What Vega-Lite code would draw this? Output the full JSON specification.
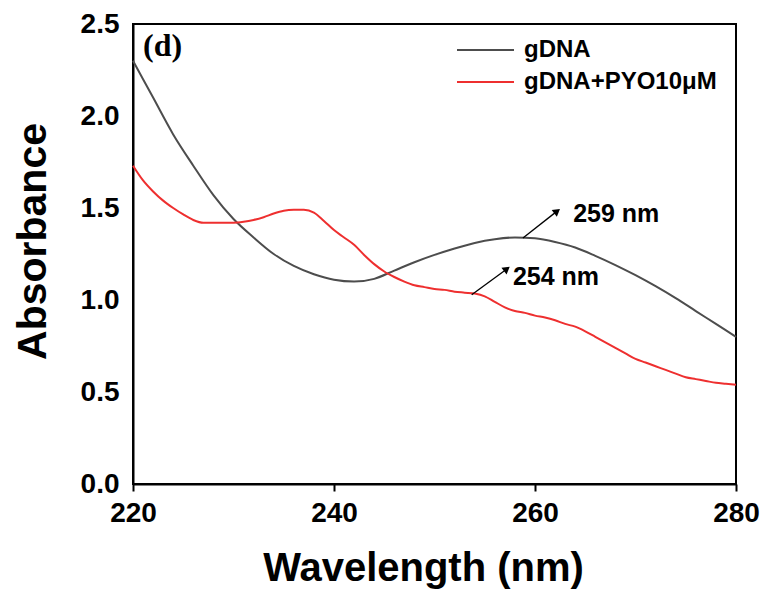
{
  "$schema": "https://vega.github.io/schema/vega-lite/v6.json",
  "width": 603,
  "height": 460,
  "autosize": {"type": "none"},
  "padding": {"left": 133, "top": 24, "right": 30, "bottom": 107},
  "background": "white",
  "config": {
    "view": {"stroke": "black", "strokeWidth": 2},
    "font": "Liberation Sans",
    "axis": {
      "domainColor": "black",
      "domainWidth": 2,
      "tickColor": "black",
      "tickWidth": 2,
      "grid": false,
      "labelFont": "Liberation Sans",
      "labelFontWeight": "bold",
      "labelFontSize": 28,
      "labelColor": "black",
      "labelFlush": false,
      "titleFont": "Liberation Sans",
      "titleFontWeight": "bold",
      "titleFontSize": 40,
      "titleColor": "black"
    }
  },
  "datasets": {
    "spectra": [
      {"series": "gDNA", "wl": 220, "abs": 2.30},
      {"series": "gDNA", "wl": 222, "abs": 2.10},
      {"series": "gDNA", "wl": 224, "abs": 1.90},
      {"series": "gDNA", "wl": 226, "abs": 1.73},
      {"series": "gDNA", "wl": 228, "abs": 1.57},
      {"series": "gDNA", "wl": 230, "abs": 1.44},
      {"series": "gDNA", "wl": 232, "abs": 1.34},
      {"series": "gDNA", "wl": 234, "abs": 1.25},
      {"series": "gDNA", "wl": 236, "abs": 1.185},
      {"series": "gDNA", "wl": 238, "abs": 1.14},
      {"series": "gDNA", "wl": 240, "abs": 1.11},
      {"series": "gDNA", "wl": 242, "abs": 1.10},
      {"series": "gDNA", "wl": 244, "abs": 1.115},
      {"series": "gDNA", "wl": 246, "abs": 1.16},
      {"series": "gDNA", "wl": 248, "abs": 1.205},
      {"series": "gDNA", "wl": 250, "abs": 1.245},
      {"series": "gDNA", "wl": 252, "abs": 1.28},
      {"series": "gDNA", "wl": 254, "abs": 1.31},
      {"series": "gDNA", "wl": 256, "abs": 1.33},
      {"series": "gDNA", "wl": 258, "abs": 1.34},
      {"series": "gDNA", "wl": 260, "abs": 1.335},
      {"series": "gDNA", "wl": 262, "abs": 1.315},
      {"series": "gDNA", "wl": 264, "abs": 1.285},
      {"series": "gDNA", "wl": 266, "abs": 1.24},
      {"series": "gDNA", "wl": 268, "abs": 1.19},
      {"series": "gDNA", "wl": 270, "abs": 1.135},
      {"series": "gDNA", "wl": 272, "abs": 1.075},
      {"series": "gDNA", "wl": 274, "abs": 1.01},
      {"series": "gDNA", "wl": 276, "abs": 0.94},
      {"series": "gDNA", "wl": 278, "abs": 0.87},
      {"series": "gDNA", "wl": 280, "abs": 0.80},
      {"series": "gDNA+PYO10μM", "wl": 220, "abs": 1.73},
      {"series": "gDNA+PYO10μM", "wl": 221, "abs": 1.65},
      {"series": "gDNA+PYO10μM", "wl": 222, "abs": 1.59},
      {"series": "gDNA+PYO10μM", "wl": 223, "abs": 1.54},
      {"series": "gDNA+PYO10μM", "wl": 224, "abs": 1.50},
      {"series": "gDNA+PYO10μM", "wl": 225, "abs": 1.465},
      {"series": "gDNA+PYO10μM", "wl": 226, "abs": 1.435},
      {"series": "gDNA+PYO10μM", "wl": 227, "abs": 1.42},
      {"series": "gDNA+PYO10μM", "wl": 228, "abs": 1.42},
      {"series": "gDNA+PYO10μM", "wl": 229, "abs": 1.42},
      {"series": "gDNA+PYO10μM", "wl": 230, "abs": 1.42},
      {"series": "gDNA+PYO10μM", "wl": 231, "abs": 1.425},
      {"series": "gDNA+PYO10μM", "wl": 232, "abs": 1.435},
      {"series": "gDNA+PYO10μM", "wl": 233, "abs": 1.45},
      {"series": "gDNA+PYO10μM", "wl": 234, "abs": 1.47},
      {"series": "gDNA+PYO10μM", "wl": 235, "abs": 1.485},
      {"series": "gDNA+PYO10μM", "wl": 236, "abs": 1.49},
      {"series": "gDNA+PYO10μM", "wl": 237, "abs": 1.49},
      {"series": "gDNA+PYO10μM", "wl": 238, "abs": 1.475},
      {"series": "gDNA+PYO10μM", "wl": 239, "abs": 1.43},
      {"series": "gDNA+PYO10μM", "wl": 240, "abs": 1.38},
      {"series": "gDNA+PYO10μM", "wl": 241, "abs": 1.34},
      {"series": "gDNA+PYO10μM", "wl": 242, "abs": 1.30},
      {"series": "gDNA+PYO10μM", "wl": 243, "abs": 1.245},
      {"series": "gDNA+PYO10μM", "wl": 244, "abs": 1.195},
      {"series": "gDNA+PYO10μM", "wl": 245, "abs": 1.155},
      {"series": "gDNA+PYO10μM", "wl": 246, "abs": 1.125},
      {"series": "gDNA+PYO10μM", "wl": 247, "abs": 1.10},
      {"series": "gDNA+PYO10μM", "wl": 248, "abs": 1.08},
      {"series": "gDNA+PYO10μM", "wl": 249, "abs": 1.07},
      {"series": "gDNA+PYO10μM", "wl": 250, "abs": 1.06},
      {"series": "gDNA+PYO10μM", "wl": 251, "abs": 1.055},
      {"series": "gDNA+PYO10μM", "wl": 252, "abs": 1.045},
      {"series": "gDNA+PYO10μM", "wl": 253, "abs": 1.04},
      {"series": "gDNA+PYO10μM", "wl": 254, "abs": 1.035},
      {"series": "gDNA+PYO10μM", "wl": 255, "abs": 1.02},
      {"series": "gDNA+PYO10μM", "wl": 256, "abs": 0.99},
      {"series": "gDNA+PYO10μM", "wl": 257, "abs": 0.96},
      {"series": "gDNA+PYO10μM", "wl": 258, "abs": 0.94},
      {"series": "gDNA+PYO10μM", "wl": 259, "abs": 0.93},
      {"series": "gDNA+PYO10μM", "wl": 260, "abs": 0.915},
      {"series": "gDNA+PYO10μM", "wl": 261, "abs": 0.905},
      {"series": "gDNA+PYO10μM", "wl": 262, "abs": 0.89},
      {"series": "gDNA+PYO10μM", "wl": 263, "abs": 0.87},
      {"series": "gDNA+PYO10μM", "wl": 264, "abs": 0.855},
      {"series": "gDNA+PYO10μM", "wl": 265, "abs": 0.83},
      {"series": "gDNA+PYO10μM", "wl": 266, "abs": 0.80},
      {"series": "gDNA+PYO10μM", "wl": 267, "abs": 0.77},
      {"series": "gDNA+PYO10μM", "wl": 268, "abs": 0.74},
      {"series": "gDNA+PYO10μM", "wl": 269, "abs": 0.71},
      {"series": "gDNA+PYO10μM", "wl": 270, "abs": 0.68},
      {"series": "gDNA+PYO10μM", "wl": 271, "abs": 0.66},
      {"series": "gDNA+PYO10μM", "wl": 272, "abs": 0.64},
      {"series": "gDNA+PYO10μM", "wl": 273, "abs": 0.62},
      {"series": "gDNA+PYO10μM", "wl": 274, "abs": 0.60},
      {"series": "gDNA+PYO10μM", "wl": 275, "abs": 0.58},
      {"series": "gDNA+PYO10μM", "wl": 276, "abs": 0.57},
      {"series": "gDNA+PYO10μM", "wl": 277, "abs": 0.56},
      {"series": "gDNA+PYO10μM", "wl": 278, "abs": 0.55},
      {"series": "gDNA+PYO10μM", "wl": 279, "abs": 0.545},
      {"series": "gDNA+PYO10μM", "wl": 280, "abs": 0.54}
    ],
    "peaks": [
      {"label": "259 nm", "wl": 258.8, "abs": 1.337, "wl2": 262.2, "abs2": 1.483, "twl": 263.8, "tabs": 1.466},
      {"label": "254 nm", "wl": 253.7, "abs": 1.028, "wl2": 257.2, "abs2": 1.169, "twl": 257.8, "tabs": 1.125}
    ],
    "panel": [
      {"label": "(d)", "wl": 221.0, "abs": 2.38}
    ]
  },
  "encoding": {
    "x": {
      "field": "wl",
      "type": "quantitative",
      "scale": {"domain": [220, 280], "nice": false, "zero": false},
      "axis": {
        "title": "Wavelength (nm)",
        "values": [220, 240, 260, 280],
        "tickSize": 7,
        "labelPadding": 8,
        "titleX": 290,
        "titleY": 96,
        "titleBaseline": "alphabetic"
      }
    },
    "y": {
      "field": "abs",
      "type": "quantitative",
      "scale": {"domain": [0, 2.5], "nice": false},
      "axis": {
        "title": "Absorbance",
        "values": [0, 0.5, 1, 1.5, 2, 2.5],
        "format": ".1f",
        "ticks": false,
        "tickSize": 0,
        "labelPadding": 14,
        "titleX": -88,
        "titleY": 217,
        "titleFontSize": 41,
        "titleAngle": -90,
        "titleAlign": "center",
        "titleBaseline": "alphabetic"
      }
    }
  },
  "layer": [
    {
      "data": {"name": "spectra"},
      "mark": {"type": "line", "strokeWidth": 2, "interpolate": "monotone"},
      "encoding": {
        "color": {
          "field": "series",
          "type": "nominal",
          "scale": {"domain": ["gDNA", "gDNA+PYO10μM"], "range": ["#4d4d4d", "#ee2f2f"]},
          "legend": {
            "title": null,
            "orient": "none",
            "legendX": 323,
            "legendY": 10,
            "symbolType": "stroke",
            "symbolSize": 3249,
            "symbolStrokeWidth": 2,
            "labelFont": "Liberation Sans",
            "labelFontWeight": "bold",
            "labelFontSize": 24,
            "labelColor": "black",
            "labelLimit": 0,
            "labelOffset": 9,
            "clipHeight": 32,
            "rowPadding": 0
          }
        }
      }
    },
    {
      "data": {"name": "panel"},
      "mark": {"type": "text", "font": "Liberation Serif", "fontWeight": "bold", "fontSize": 32, "align": "left", "baseline": "middle", "color": "black"},
      "encoding": {"text": {"field": "label"}}
    },
    {
      "data": {"name": "peaks"},
      "mark": {"type": "rule", "color": "black", "strokeWidth": 1.3},
      "encoding": {
        "x2": {"field": "wl2"},
        "y2": {"field": "abs2"}
      }
    },
    {
      "data": {"name": "peaks"},
      "mark": {"type": "point", "shape": "triangle-up", "filled": true, "color": "black", "size": 70, "angle": 52, "opacity": 1},
      "encoding": {
        "x": {"field": "wl2", "type": "quantitative"},
        "y": {"field": "abs2", "type": "quantitative"}
      }
    },
    {
      "data": {"name": "peaks"},
      "mark": {"type": "text", "font": "Liberation Sans", "fontWeight": "bold", "fontSize": 25, "align": "left", "baseline": "middle", "color": "black"},
      "encoding": {
        "x": {"field": "twl", "type": "quantitative"},
        "y": {"field": "tabs", "type": "quantitative"},
        "text": {"field": "label"}
      }
    }
  ]
}
